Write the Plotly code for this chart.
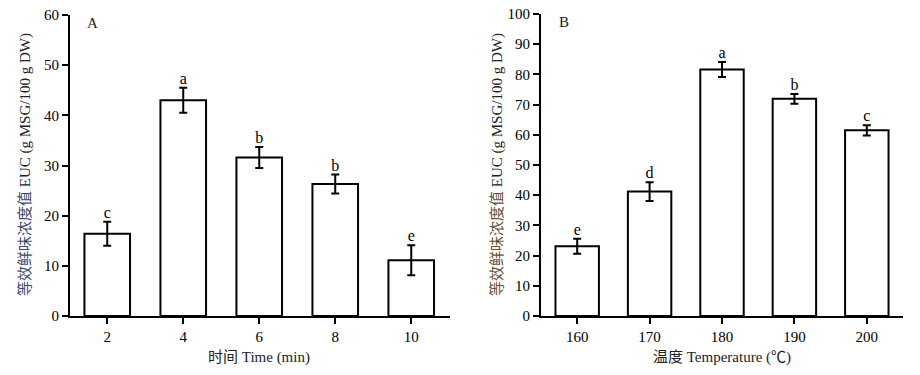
import plotly.graph_objects as go

# Panel A data
time_labels = ["2", "4", "6", "8", "10"]
time_values = [16.4, 43.0, 31.6, 26.3, 11.1]
time_errors = [2.4, 2.5, 2.1, 1.9, 3.0]
time_letters = ["c", "a", "b", "b", "e"]

# Panel B data
temp_labels = ["160", "170", "180", "190", "200"]
temp_values = [23.1, 41.2, 81.6, 71.9, 61.5]
temp_errors = [2.5, 3.1, 2.5, 1.6, 1.7]
temp_letters = ["e", "d", "a", "b", "c"]

FONT = "Liberation Serif, Times New Roman, Noto Sans CJK SC, serif"
W, H = 920, 375

fig = go.Figure()

def add_panel(fig, labels, values, errors, letters, xa, ya):
    fig.add_trace(go.Bar(
        x=labels, y=values, width=0.6,
        marker=dict(color="white", line=dict(color="black", width=2)),
        error_y=dict(type="data", array=errors, color="black", thickness=2, width=4),
        xaxis=xa, yaxis=ya, showlegend=False,
    ))
    fig.add_trace(go.Scatter(
        x=labels, y=[v + e for v, e in zip(values, errors)],
        mode="text", text=letters, textposition="top center",
        textfont=dict(family=FONT, size=16, color="black"),
        xaxis=xa, yaxis=ya, showlegend=False, cliponaxis=False,
    ))

add_panel(fig, time_labels, time_values, time_errors, time_letters, "x", "y")
add_panel(fig, temp_labels, temp_values, temp_errors, temp_letters, "x2", "y2")

axis_common = dict(showline=True, linecolor="black", linewidth=2, ticks="outside",
                   tickcolor="black", tickwidth=1.5, ticklen=6, showgrid=False, zeroline=False,
                   automargin=False,
                   tickfont=dict(family=FONT, size=15, color="black"))

def px_x(x):
    return x / W

def px_y(y):
    return 1 - y / H

fig.update_layout(
    width=W, height=H,
    margin=dict(l=0, r=0, t=0, b=0, pad=0),
    paper_bgcolor="white", plot_bgcolor="white",
    font=dict(family=FONT, size=15, color="black"),
    xaxis=dict(domain=[px_x(70), px_x(450)], anchor="y", range=[-0.49, 4.51], **axis_common),
    yaxis=dict(domain=[px_y(316), px_y(15)], anchor="x", range=[0, 60], tickvals=[0, 10, 20, 30, 40, 50, 60], **axis_common),
    xaxis2=dict(domain=[px_x(541), px_x(903)], anchor="y2", range=[-0.5, 4.5], **axis_common),
    yaxis2=dict(domain=[px_y(316), px_y(14)], anchor="x2", range=[0, 100], tickvals=list(range(0, 101, 10)), **axis_common),
)

ann = [
    dict(x=92, y=23, text="A"),
    dict(x=564, y=22, text="B"),
    dict(x=259, y=357, text="时间 Time (min)"),
    dict(x=722, y=357, text="温度 Temperature (℃)"),
    dict(x=25, y=165, text="<span style='color:#3d4c6e'>等效鲜味浓度值</span> EUC (g MSG/100 g DW)", textangle=-90),
    dict(x=497, y=165, text="<span style='color:#6b5234'>等效鲜味浓度值</span> EUC (g MSG/100 g DW)", textangle=-90),
]
annotations = []
for a in ann:
    annotations.append(dict(
        x=px_x(a["x"]), y=px_y(a["y"]), xref="paper", yref="paper",
        text=a["text"], showarrow=False, textangle=a.get("textangle", 0),
        font=dict(family=FONT, size=15, color="#222222"),
        xanchor="center", yanchor="middle",
    ))
fig.update_layout(annotations=annotations)

fig.write_html("out.html", config={"displayModeBar": False},
               post_script="document.body.style.margin='0';")
